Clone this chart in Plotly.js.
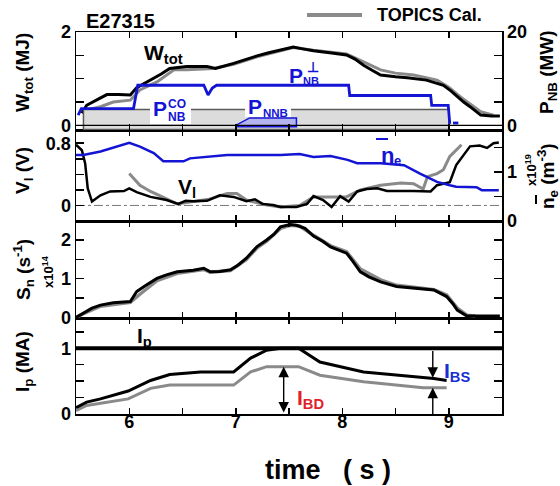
<!DOCTYPE html>
<html><head><meta charset="utf-8">
<script src="https://cdn.plot.ly/plotly-3.0.1.min.js"></script>
<style>body{margin:0;background:#fff}#chart{width:560px;height:486px}</style>
</head><body><div id="chart"></div>
<script>
// ---------- data ----------
const shotName = 'E27315';
const timeRange = [5.5, 9.5];
const timeTicks = [6, 7, 8, 9];
const timeTickText = ['6', '7', '8', '9'];
const timeMinorTicks = [6.5, 7.5, 8.5];

// Panel 1: stored energy (MJ) and NB power (MW)
const wTime = [5.555,5.60,5.70,5.79,5.90,6.01,6.07,6.20,6.30,6.38,6.54,6.73,6.81,6.98,7.10,7.20,7.30,7.40,7.45,7.54,7.63,7.73,7.90,8.04,8.12,8.20,8.28,8.36,8.50,8.61,8.79,8.95,9.02,9.08,9.14,9.20,9.30,9.40,9.48];
const wTot  = [0.26,0.43,0.55,0.66,0.66,0.65,0.81,0.97,1.10,1.22,1.26,1.26,1.22,1.33,1.42,1.49,1.55,1.60,1.62,1.68,1.64,1.60,1.55,1.51,1.42,1.29,1.18,1.08,1.04,1.02,0.97,0.86,0.74,0.61,0.50,0.40,0.22,0.20,0.20];
const wCalTime = [5.60,5.73,5.85,6.01,6.10,6.26,6.42,6.54,6.79,6.98,7.20,7.40,7.54,7.73,7.90,8.04,8.20,8.36,8.50,8.67,8.89,9.00,9.11,9.20,9.30,9.42];
const wCal     = [0.33,0.40,0.50,0.54,0.76,0.93,1.19,1.19,1.22,1.31,1.47,1.59,1.67,1.61,1.56,1.53,1.36,1.19,1.12,1.08,0.97,0.82,0.61,0.46,0.29,0.22];
const pnbTime  = [5.52,5.55,6.04,6.08,6.70,6.74,6.78,6.82,8.06,8.07,8.83,8.84,8.995,9.01,null,9.04,9.09];
const pnbPower = [2.2,3.6,3.6,8.6,8.6,6.5,8.0,8.6,8.6,6.4,6.4,4.3,4.3,0.3,null,0.5,0.5];
const coTime   = [5.57, 9.0];     // co-injection NB interval
const coPower  = [3.4, 3.4];
const coBase   = -0.9;
const nnbTime  = [7.0, 7.0, 7.13, 7.57, 7.57, 7.0];
const nnbPower = [-0.3, 0, 1.6, 1.6, -0.3, -0.3];

// Panel 2: loop voltage (V) and line density (1e19 m^-3)
const vTime = [5.50,5.555,5.586,5.61,5.65,5.73,5.82,5.95,6.00,6.07,6.20,6.35,6.46,6.53,6.60,6.73,6.85,6.98,7.10,7.18,7.25,7.35,7.42,7.57,7.67,7.73,7.82,7.90,7.98,8.06,8.14,8.23,8.33,8.42,8.67,8.83,8.89,9.01,9.07,9.20,9.29,9.36,9.42,9.47];
const vLoop = [0.78,0.71,0.54,0.22,0.05,0.13,0.18,0.185,0.22,0.17,0.11,0.07,0.02,0.06,0.055,0.06,0.13,0.11,0.055,0.08,0.02,0.005,-0.02,-0.02,0.02,0.12,0.07,-0.02,0.12,0.05,0.18,0.21,0.22,0.185,0.185,0.18,0.26,0.30,0.52,0.76,0.77,0.74,0.80,0.81];
const vCalTime = [6.00,6.10,6.20,6.35,6.45,6.60,6.75,6.92,7.01,7.10,7.29,7.42,7.60,7.73,7.90,8.04,8.17,8.36,8.55,8.67,8.76,8.80,8.89,8.95,9.01,9.07,9.12];
const vCal     = [0.41,0.26,0.18,0.09,0.02,0.05,0.08,0.155,0.155,0.07,0.005,-0.02,0.0,0.11,0.11,0.11,0.20,0.26,0.29,0.28,0.21,0.37,0.41,0.46,0.63,0.71,0.78];
const neTime = [5.50,5.57,5.73,5.88,6.00,6.10,6.23,6.32,6.51,6.57,6.73,6.92,7.42,7.60,7.73,7.89,8.05,8.14,8.36,8.58,8.73,8.89,9.01,9.07,9.26,9.31,9.47];
const neBar  = [1.35,1.35,1.42,1.52,1.60,1.52,1.39,1.22,1.22,1.28,1.31,1.35,1.35,1.37,1.31,1.33,1.25,1.18,1.18,1.14,0.97,0.80,0.73,0.70,0.69,0.63,0.63];

// Panel 3: neutron rate (1e14 /s)
const snTime = [5.50,5.57,5.65,5.73,5.85,6.01,6.07,6.15,6.26,6.35,6.45,6.60,6.70,6.76,6.85,6.95,7.02,7.10,7.20,7.29,7.36,7.42,7.51,7.57,7.65,7.73,7.82,7.89,8.04,8.10,8.17,8.25,8.36,8.51,8.73,8.86,8.98,9.04,9.08,9.17,9.48];
const sn     = [0.00,0.12,0.24,0.32,0.38,0.41,0.67,0.82,1.01,1.10,1.18,1.22,1.27,1.18,1.19,1.23,1.35,1.53,1.83,2.00,2.15,2.34,2.40,2.38,2.30,2.10,1.96,1.82,1.66,1.45,1.18,1.05,0.92,0.80,0.75,0.71,0.54,0.35,0.19,0.04,0.04];
const snCalTime = [5.50,5.57,5.73,6.01,6.10,6.26,6.45,6.70,6.76,6.95,7.10,7.20,7.29,7.42,7.51,7.60,7.73,7.89,8.04,8.17,8.36,8.51,8.73,8.86,8.98,9.08,9.17,9.25];
const snCal     = [0.00,0.10,0.29,0.39,0.60,0.95,1.14,1.24,1.17,1.21,1.50,1.80,1.97,2.30,2.38,2.36,2.12,1.85,1.70,1.25,0.97,0.83,0.76,0.72,0.58,0.24,0.06,0.04];

// Panel 4: plasma current components (MA)
const ipTime = [5.5, 9.5];
const ip     = [1.0, 1.0];
const iniTime = [5.50,5.60,5.73,5.99,6.20,6.38,6.67,6.98,7.14,7.29,7.42,7.59,7.79,8.20,8.86,8.98];
const ini     = [0.095,0.18,0.23,0.35,0.51,0.60,0.64,0.64,0.85,0.97,1.00,1.00,0.79,0.64,0.54,0.51];
const ibdTime = [5.50,5.60,5.99,6.20,6.38,6.98,7.14,7.29,7.59,7.79,8.20,8.76,8.98];
const ibd     = [0.05,0.13,0.23,0.39,0.44,0.44,0.64,0.72,0.72,0.59,0.49,0.40,0.40];
const bdArrow = {t: 7.45, lo: 0.0, hi: 0.72};
const bsArrow = {t: 8.85, ipLevel: 0.98, niLevel: 0.55, bdLevel: 0.40, below: -0.05};

// axis tick values / labels
const wTicks = [0, 2],  wTickText = ['0', '2'],  wMinor = [0.5, 1, 1.5];
const pTicks = [0, 20], pTickText = ['0', '20'], pMinor = [5, 10, 15];
const vTicks = [0, 0.8], vTickText = ['0', '0.8'], vMinor = [0.2, 0.4, 0.6];
const nTicks = [0, 1], nTickText = ['0', '1'], nMinor = [0.5, 1.5];
const sTicks = [0, 1, 2], sTickText = ['0', '1', '2'], sMinor = [0.5, 1.5];
const iTicks = [0, 1], iTickText = ['0', '1'], iMinor = [0.25, 0.5, 0.75, 1.25];

// ---------- styles ----------
const F = 'Liberation Sans, Arial, Helvetica, sans-serif';
const BLACK = '#000000', GRAY = '#8a8a8a', BLUE = '#1414d4', RED = '#e0202a';
const L = 76, T = 32, PW = 426, PH = 382;
const PX = px => (px - L) / PW;
const PY = py => (T + PH - py) / PH;

function lab(text, px, py, size, color, o) {
  o = o || {};
  return {xref:'paper', yref:'paper', x:PX(px), y:PY(py), text:text, showarrow:false,
    xanchor:o.xa || 'left', yanchor:o.ya || 'middle', textangle:o.angle || 0,
    font:{family:F, size:size, color:color, weight:700}, borderpad:0};
}

const tickFont = {family:F, size:18, color:BLACK, weight:700};
function xAx(anchor, labels) {
  const a = {range:timeRange, anchor:anchor, domain:[0,1], tickvals:timeTicks, ticktext:timeTickText,
    showticklabels:labels, ticks:'inside', ticklen:6, tickwidth:1.5, tickcolor:BLACK,
    minor:{tickvals:timeMinorTicks, ticks:'inside', ticklen:6, tickwidth:1.5, tickcolor:BLACK, showgrid:false},
    showline:true, linewidth:1.5, linecolor:BLACK, mirror:'ticks', showgrid:false, zeroline:false,
    tickfont:tickFont, ticklabelstandoff:-9};
  if (anchor !== 'y6') a.matches = 'x';
  return a;
}
function yAx(domain, anchor, range, vals, text, minorVals, extra) {
  return Object.assign({domain:domain, anchor:anchor, range:range, tickvals:vals, ticktext:text,
    ticks:'inside', ticklen:8, tickwidth:1.5, tickcolor:BLACK,
    minor:{tickvals:minorVals, ticks:'inside', ticklen:8, tickwidth:1.5, tickcolor:BLACK, showgrid:false},
    showline:true, linewidth:1.5,
    linecolor:BLACK, showgrid:false, zeroline:false, tickfont:tickFont}, extra || {});
}

const D1 = [PY(130), 1], D2 = [PY(221), PY(130)], D3 = [PY(318), PY(221)], D4 = [0, PY(318)];

const line = (x, y, xa, ya, color, width, extra) => Object.assign(
  {x:x, y:y, xaxis:xa, yaxis:ya, type:'scatter', mode:'lines', hoverinfo:'skip',
   line:{color:color, width:width}, connectgaps:false}, extra || {});

const coPolyX = [coTime[0], coTime[0], coTime[1], coTime[1], coTime[0]];
const coPolyY = [coBase, coPower[0], coPower[1], coBase, coBase];

const traces = [
  // panel 1
  line(wCalTime, wCal, 'x4', 'y', GRAY, 3),
  line(wTime, wTot, 'x4', 'y', BLACK, 3),
  line(coPolyX, coPolyY, 'x4', 'y2', '#5a5a5a', 1.5, {fill:'toself', fillcolor:'#dcdcdc'}),
  line(nnbTime, nnbPower, 'x4', 'y2', BLUE, 1.5, {fill:'toself', fillcolor:'#b4b4ee'}),
  line(pnbTime, pnbPower, 'x4', 'y2', BLUE, 2.8),
  // panel 2
  line(vCalTime, vCal, 'x3', 'y3', GRAY, 3),
  line(vTime, vLoop, 'x3', 'y3', BLACK, 2.5),
  line(neTime, neBar, 'x3', 'y4', BLUE, 2.5),
  // panel 3
  line(snCalTime, snCal, 'x2', 'y5', GRAY, 3.5),
  line(snTime, sn, 'x2', 'y5', BLACK, 3),
  // panel 4
  line(ipTime, ip, 'x', 'y6', BLACK, 4),
  line(ibdTime, ibd, 'x', 'y6', GRAY, 3),
  line(iniTime, ini, 'x', 'y6', BLACK, 3)
];

const arrow = (x, y, ax, ay, side) => ({xref:'x', yref:'y6', axref:'x', ayref:'y6', x:x, y:y, ax:ax, ay:ay,
  text:'', showarrow:true, arrowhead:2, arrowsize:1.5, arrowwidth:1.4, arrowcolor:BLACK,
  arrowside:side || 'end', standoff:0, startstandoff:0});

const annotations = [
  lab(shotName, 85, 21, 20, BLACK),
  lab('TOPICS Cal.', 376, 15, 18, BLACK),
  lab('W<sub>tot</sub>', 143, 54, 21, BLACK),
  lab('P', 288, 75, 21, BLUE),
  lab('\u22A5', 313, 67, 14, BLUE, {xa:'center'}),
  lab('NB', 311, 81, 11, BLUE, {xa:'center'}),
  lab('P', 152, 109, 21, BLUE),
  lab('CO', 176.5, 104, 12, BLUE, {xa:'center'}),
  lab('NB', 176.5, 117, 12, BLUE, {xa:'center'}),
  lab('P', 247, 106, 21, BLUE),
  lab('NNB', 275.5, 113, 11.5, BLUE, {xa:'center'}),
  lab('V<sub>l</sub>', 177, 188, 21, BLACK),
  lab('n', 380, 155, 22, BLUE),
  lab('e', 397, 160, 13, BLUE, {xa:'center'}),
  lab('I<sub>p</sub>', 136, 337, 21, BLACK),
  lab('I<sub>BD</sub>', 296, 399, 21, RED),
  lab('I<sub>BS</sub>', 443, 372, 21, '#1a2ed0'),
  // axis titles
  lab('W<sub>tot</sub> (MJ)', 24, 73, 19, BLACK, {xa:'center', angle:-90}),
  lab('V<sub>l</sub> (V)', 24, 171, 19, BLACK, {xa:'center', angle:-90}),
  lab('S<sub>n</sub> (s<sup>-1</sup>)', 23, 270, 19, BLACK, {xa:'center', angle:-90}),
  lab('x10<sup>14</sup>', 48, 272, 13, BLACK, {xa:'center', angle:-90}),
  lab('I<sub>p</sub> (MA)', 24, 362, 19, BLACK, {xa:'center', angle:-90}),
  lab('P<sub>NB</sub> (MW)', 548, 72, 19, BLACK, {xa:'center', angle:-90}),
  lab('n<sub>e</sub> (m<sup>-3</sup>)', 548, 176, 19, BLACK, {xa:'center', angle:-90}),
  lab('x10<sup>19</sup>', 531, 170, 13, BLACK, {xa:'center', angle:-90}),
  lab('time\u00a0\u00a0\u00a0( s )', 328, 470, 27, BLACK, {xa:'center'}),
  // arrows
  arrow(bdArrow.t, bdArrow.hi, bdArrow.t, bdArrow.lo, 'end+start'),
  arrow(bsArrow.t, bsArrow.niLevel, bsArrow.t, bsArrow.ipLevel),
  arrow(bsArrow.t, bsArrow.bdLevel, bsArrow.t, bsArrow.below)
];

const shapes = [
  // legend sample
  {type:'line', xref:'paper', yref:'paper', x0:PX(307), x1:PX(362), y0:PY(15), y1:PY(15), line:{color:GRAY, width:4}},
  // zero reference lines
  {type:'line', xref:'paper', yref:'y', x0:0, x1:1, y0:0, y1:0, line:{color:BLACK, width:1.3}, layer:'above'},
  {type:'line', xref:'paper', yref:'y3', x0:0, x1:1, y0:0, y1:0, line:{color:'#777', width:1, dash:'dashdot'}, layer:'below'},
  // white label boxes
  {type:'rect', xref:'paper', yref:'paper', x0:PX(150), x1:PX(191), y0:PY(124), y1:PY(98), fillcolor:'#fff', line:{width:0}, layer:'above'},
  {type:'rect', xref:'paper', yref:'paper', x0:PX(245), x1:PX(291), y0:PY(117), y1:PY(96), fillcolor:'#fff', line:{width:0}, layer:'above'},
  // overlines of n_e
  {type:'line', xref:'paper', yref:'paper', x0:PX(376), x1:PX(388), y0:PY(139), y1:PY(139), line:{color:BLUE, width:2}},
  {type:'line', xref:'paper', yref:'paper', x0:PX(536), x1:PX(536), y0:PY(195), y1:PY(204), line:{color:BLACK, width:2}}
];

const layout = {
  width:560, height:486, margin:{l:L, r:560-L-PW, t:T, b:486-T-PH},
  paper_bgcolor:'#fff', plot_bgcolor:'#fff', showlegend:false,
  font:{family:F, color:BLACK},
  xaxis: xAx('y6', true),
  xaxis2: xAx('y5', false),
  xaxis3: xAx('y3', false),
  xaxis4: xAx('y', false),
  yaxis:  yAx(D1, 'x4', [-0.1, 2.002], wTicks, wTickText, wMinor),
  yaxis2: yAx(D1, 'x4', [-1, 20.02], pTicks, pTickText, pMinor, {overlaying:'y', side:'right'}),
  yaxis3: yAx(D2, 'x3', [-0.2, 0.97], vTicks, vTickText, vMinor),
  yaxis4: yAx(D2, 'x3', [0, 1.86], nTicks, nTickText, nMinor, {overlaying:'y3', side:'right'}),
  yaxis5: yAx(D3, 'x2', [-0.013, 2.49], sTicks, sTickText, sMinor, {mirror:'ticks'}),
  yaxis6: yAx(D4, 'x', [0, 1.46], iTicks, iTickText, iMinor, {mirror:'ticks'}),
  annotations: annotations,
  shapes: shapes
};

Plotly.newPlot('chart', traces, layout, {staticPlot:true, displayModeBar:false});
</script></body></html>
